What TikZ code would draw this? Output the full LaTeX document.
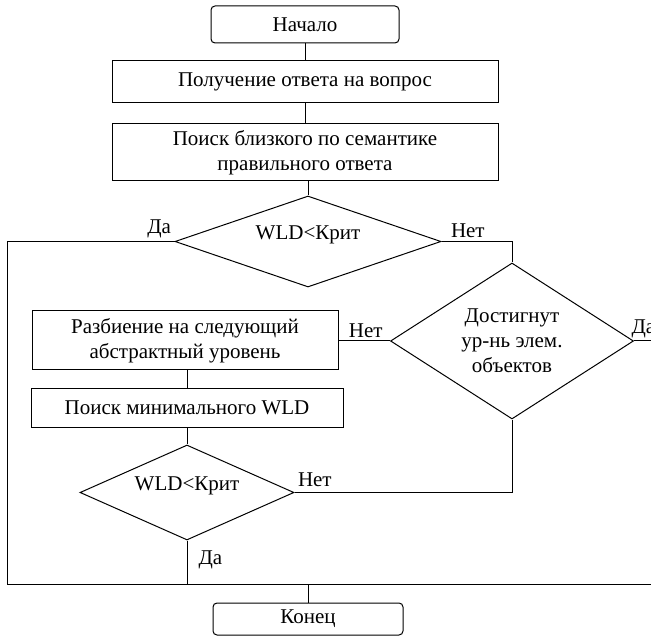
\documentclass[tikz,border=0pt]{standalone}
\usepackage{fontspec}
\setmainfont{Liberation Serif}
\newfontfamily\rufont{Liberation Serif}
\usetikzlibrary{positioning,shapes.geometric}
\tikzset{term node/.style={rectangle, draw, rounded corners=4pt, inner sep=0pt},
  proc node/.style={rectangle, draw, align=center, inner sep=0pt},
  dec node/.style={diamond, draw, align=center, inner sep=0pt, aspect=2.2},
  lbl/.style={inner sep=3pt},}

\begin{document}
\begin{tikzpicture}[x=1pt, y=-1pt, line width=1pt, font=\rufont\fontsize{21}{25}\selectfont]
        \useasboundingbox (0,0) rectangle (651,636);
        % Nodes
        \node[term node, minimum width=188pt, minimum height=37pt] (start) at (305,24.5) {Начало};
        \node[proc node, minimum width=386pt, minimum height=42pt] [below = 17pt of start] (recv) {Получение ответа на вопрос};
        \node[proc node, minimum width=386pt, minimum height=57pt] [below = 20pt of recv] (search) {Поиск близкого по семантике\\правильного ответа};
        \node[dec node, minimum width=266pt, minimum height=91pt] [below = 14pt of search, xshift=3pt] (dec1) {\raisebox{18pt}{WLD<Крит}};
        \node[dec node, minimum width=243pt, minimum height=156pt, aspect=1.6] (dec2) at (512,341) {Достигнут\\ур-нь элем.\\объектов};
        \node[proc node, minimum width=306pt, minimum height=59pt] (split) at (185,340.5) {Разбиение на следующий\\абстрактный уровень};
        \node[proc node, minimum width=312pt, minimum height=38pt] [below = 18pt of split, xshift=2pt] (minwld) {Поиск минимального WLD};
        \node[dec node, minimum width=214pt, minimum height=95pt] [below = 17pt of minwld] (dec3) {\raisebox{18pt}{WLD<Крит}};
        \node[term node, minimum width=190pt, minimum height=32pt] (end) at (308,619) {Конец};
        \coordinate (bl) at (7,584);
        \coordinate (br) at (660,584);
        % Paths
        \path[draw]
        (start) -- (recv)
        (recv) -- (search)
        (dec1.north |- search.south) -- (dec1.north)
        (dec1.west) node[lbl, above left] (yes1) {Да} -| (bl) -- (br)
        (dec1.east) node[lbl, above right, xshift=6pt] (no1) {Нет} -| (dec2.north)
        (dec2.west) node[lbl, above left, xshift=-4pt] (no2) {Нет} -- (split.east |- dec2.west)
        (dec2.east) node[lbl, above right, xshift=-6pt] (yes2) {Да} -| (br)
        (split.south -| minwld) -- (minwld)
        (minwld) -- (dec3)
        (dec3.east) node[lbl, above right, yshift=2pt] (no3) {Нет} -| (dec2.south)
        (dec3.south) -- node[lbl, right, xshift=8pt, yshift=2pt] (yes3) {Да} (dec3.south |- bl)
        (end.north |- bl) -- (end);
    \end{tikzpicture}
\end{document}
